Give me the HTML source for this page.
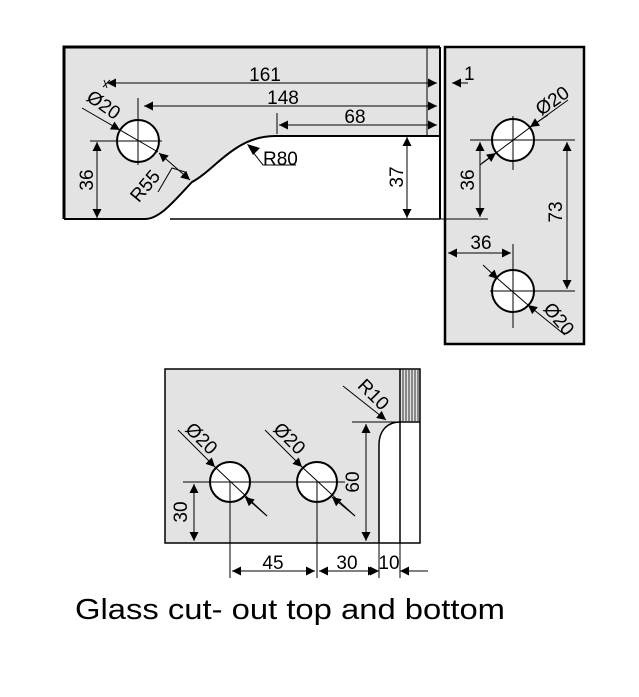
<!DOCTYPE html>
<html><head><style>body{margin:0;background:#fff}svg{display:block}text{font-family:"Liberation Sans",Arial,sans-serif}</style></head><body>
<svg width="639" height="697" viewBox="0 0 639 697" xmlns="http://www.w3.org/2000/svg">
<defs>
<marker id="a" viewBox="0 0 10 10" refX="10" refY="5" markerWidth="13" markerHeight="9" markerUnits="userSpaceOnUse" orient="auto-start-reverse"><path d="M0,0 L10,5 L0,10 z" fill="#000"/></marker>
</defs>
<!-- top left panel -->
<path d="M64,47 L440,47 L440,136 L275,136 C230,136 215,170 192,182 C175,200 160,219 145,219 L64,219 Z" fill="#e3e3e3"/>
<path d="M64,219 L64,47 L440,47" fill="none" stroke="#000" stroke-width="3"/>
<line x1="440" y1="47" x2="440" y2="219" stroke="#000" stroke-width="2"/>
<line x1="427" y1="47" x2="427" y2="136" stroke="#000" stroke-width="1"/>
<path d="M440,136 L275,136 C235,136 215,170 192,182 C175,200 160,219 145,219 L64,219" fill="none" stroke="#000" stroke-width="2"/>
<line x1="170" y1="219" x2="440" y2="219" stroke="#000" stroke-width="1.5"/>
<circle cx="138" cy="141" r="21" fill="#fff" stroke="#000" stroke-width="2"/>
<g stroke="#000" stroke-width="1" fill="none">
<line x1="138" y1="98" x2="138" y2="165"/><line x1="90" y1="141" x2="162" y2="141"/>
<line x1="107" y1="83" x2="437" y2="83" marker-start="url(#a)" marker-end="url(#a)"/>
<line x1="144" y1="106" x2="437" y2="106" marker-start="url(#a)" marker-end="url(#a)"/>
<line x1="279" y1="125" x2="437" y2="125" marker-start="url(#a)" marker-end="url(#a)"/>
<line x1="277" y1="113" x2="277" y2="134"/>
<line x1="104" y1="80" x2="107" y2="88"/><line x1="103" y1="87" x2="110" y2="80"/>
<line x1="407" y1="137" x2="407" y2="218" marker-start="url(#a)" marker-end="url(#a)"/>
<line x1="97" y1="142" x2="97" y2="218" marker-start="url(#a)" marker-end="url(#a)"/>
<line x1="82" y1="108" x2="120" y2="130" marker-end="url(#a)"/>
<line x1="120" y1="130" x2="158" y2="152"/>
<line x1="159" y1="153" x2="190" y2="180" marker-start="url(#a)" marker-end="url(#a)"/>
<path d="M158,192 L172,168 L185,172"/>
<path d="M249,147 L263,165 L296,165"/>
</g>
<path d="M247,144 l13,4 l-7,7 z" fill="#000"/>
<text x="265" y="81" font-size="19" text-anchor="middle">161</text>
<text x="283" y="104" font-size="19" text-anchor="middle">148</text>
<text x="355" y="123" font-size="19" text-anchor="middle">68</text>
<text x="263" y="165" font-size="19">R80</text>
<text transform="translate(403,177) rotate(-90)" font-size="19" text-anchor="middle">37</text>
<text transform="translate(93,180) rotate(-90)" font-size="19" text-anchor="middle">36</text>
<text transform="translate(150,190) rotate(-50)" font-size="19" text-anchor="middle">R55</text>
<text transform="translate(100,110) rotate(35)" font-size="19" text-anchor="middle">Ø20</text>
<!-- right panel -->
<rect x="445" y="47" width="139" height="297" fill="#e3e3e3" stroke="#000" stroke-width="2.5"/>
<line x1="430" y1="219" x2="488" y2="219" stroke="#000" stroke-width="1"/>
<circle cx="513" cy="140" r="21" fill="#fff" stroke="#000" stroke-width="2"/>
<circle cx="513" cy="291" r="21" fill="#fff" stroke="#000" stroke-width="2"/>
<g stroke="#000" stroke-width="1" fill="none">
<line x1="513" y1="116" x2="513" y2="170"/><line x1="470" y1="140" x2="575" y2="140"/>
<line x1="513" y1="244" x2="513" y2="328"/><line x1="490" y1="291" x2="575" y2="291"/>
<line x1="480" y1="142" x2="480" y2="217" marker-start="url(#a)" marker-end="url(#a)"/>
<line x1="567" y1="142" x2="567" y2="289" marker-start="url(#a)" marker-end="url(#a)"/>
<line x1="448" y1="253" x2="511" y2="253" marker-start="url(#a)" marker-end="url(#a)"/>
<line x1="468" y1="83" x2="452" y2="83" marker-end="url(#a)"/>
<line x1="568" y1="100" x2="532" y2="126" /><line x1="548" y1="115" x2="530" y2="127" marker-end="url(#a)"/>
<line x1="532" y1="126" x2="480" y2="165"/>
<line x1="482" y1="163" x2="496" y2="153" marker-end="url(#a)"/>
<line x1="483" y1="265" x2="498" y2="279" marker-end="url(#a)"/>
<line x1="498" y1="279" x2="528" y2="305"/>
<line x1="565" y1="335" x2="528" y2="305" marker-end="url(#a)"/>
</g>
<text x="464" y="80" font-size="19">1</text>
<text transform="translate(556,106) rotate(-35)" font-size="19" text-anchor="middle">Ø20</text>
<text transform="translate(474,180) rotate(-90)" font-size="19" text-anchor="middle">36</text>
<text transform="translate(562,212) rotate(-90)" font-size="19" text-anchor="middle">73</text>
<text x="481" y="249" font-size="19" text-anchor="middle">36</text>
<text transform="translate(554,323) rotate(50)" font-size="19" text-anchor="middle">Ø20</text>
<!-- bottom panel -->
<path d="M165,369 L420,369 L420,422 L400,422 C388,422 379,430 379,445 L379,543 L165,543 Z" fill="#e3e3e3"/>
<rect x="400" y="369" width="20" height="53" fill="#e3e3e3"/>
<g stroke="#000" stroke-width="0.8">
<line x1="403" y1="370" x2="403" y2="421"/><line x1="406" y1="370" x2="406" y2="421"/><line x1="409" y1="370" x2="409" y2="421"/><line x1="412" y1="370" x2="412" y2="421"/><line x1="415" y1="370" x2="415" y2="421"/><line x1="418" y1="370" x2="418" y2="421"/>
</g>
<path d="M165,369 L420,369 L420,543 L165,543 Z" fill="none" stroke="#000" stroke-width="1.5"/>
<line x1="400" y1="369" x2="400" y2="543" stroke="#000" stroke-width="1.5"/>
<line x1="400" y1="422" x2="420" y2="422" stroke="#000" stroke-width="1.5"/>
<path d="M400,422 C388,422 379,430 379,445 L379,543" fill="none" stroke="#000" stroke-width="1.5"/>
<circle cx="230" cy="482" r="20" fill="#fff" stroke="#000" stroke-width="2"/>
<circle cx="317" cy="482" r="20" fill="#fff" stroke="#000" stroke-width="2"/>
<g stroke="#000" stroke-width="1" fill="none">
<line x1="183" y1="482" x2="345" y2="482"/>
<line x1="230" y1="482" x2="230" y2="578"/><line x1="317" y1="482" x2="317" y2="578"/>
<line x1="379" y1="543" x2="379" y2="578"/><line x1="400" y1="543" x2="400" y2="578"/>
<line x1="178" y1="430" x2="215" y2="467" marker-end="url(#a)"/><line x1="215" y1="467" x2="267" y2="516"/><line x1="267" y1="516" x2="245" y2="497" marker-end="url(#a)"/>
<line x1="265" y1="430" x2="302" y2="467" marker-end="url(#a)"/><line x1="302" y1="467" x2="355" y2="516"/><line x1="355" y1="516" x2="332" y2="497" marker-end="url(#a)"/>
<line x1="343" y1="386" x2="386" y2="420" marker-end="url(#a)"/>
<line x1="352" y1="422" x2="398" y2="422"/>
<line x1="194" y1="484" x2="194" y2="541" marker-start="url(#a)" marker-end="url(#a)"/>
<line x1="366" y1="424" x2="366" y2="541" marker-start="url(#a)" marker-end="url(#a)"/>
<line x1="232" y1="571" x2="315" y2="571" marker-start="url(#a)" marker-end="url(#a)"/>
<line x1="319" y1="571" x2="377" y2="571" marker-start="url(#a)" marker-end="url(#a)"/>
<line x1="370" y1="571" x2="379" y2="571" marker-end="url(#a)"/>
<line x1="428" y1="571" x2="400" y2="571" marker-end="url(#a)"/>
</g>
<text transform="translate(197,443) rotate(45)" font-size="19" text-anchor="middle">Ø20</text>
<text transform="translate(285,443) rotate(45)" font-size="19" text-anchor="middle">Ø20</text>
<text transform="translate(369,399) rotate(45)" font-size="19" text-anchor="middle">R10</text>
<text transform="translate(187,512) rotate(-90)" font-size="19" text-anchor="middle">30</text>
<text transform="translate(359,482) rotate(-90)" font-size="19" text-anchor="middle">60</text>
<text x="273" y="569" font-size="19" text-anchor="middle">45</text>
<text x="347" y="569" font-size="19" text-anchor="middle">30</text>
<text x="389" y="569" font-size="19" text-anchor="middle">10</text>
<text x="75" y="619" font-size="29" textLength="430" lengthAdjust="spacingAndGlyphs">Glass cut- out top and bottom</text>
</svg>
</body></html>
